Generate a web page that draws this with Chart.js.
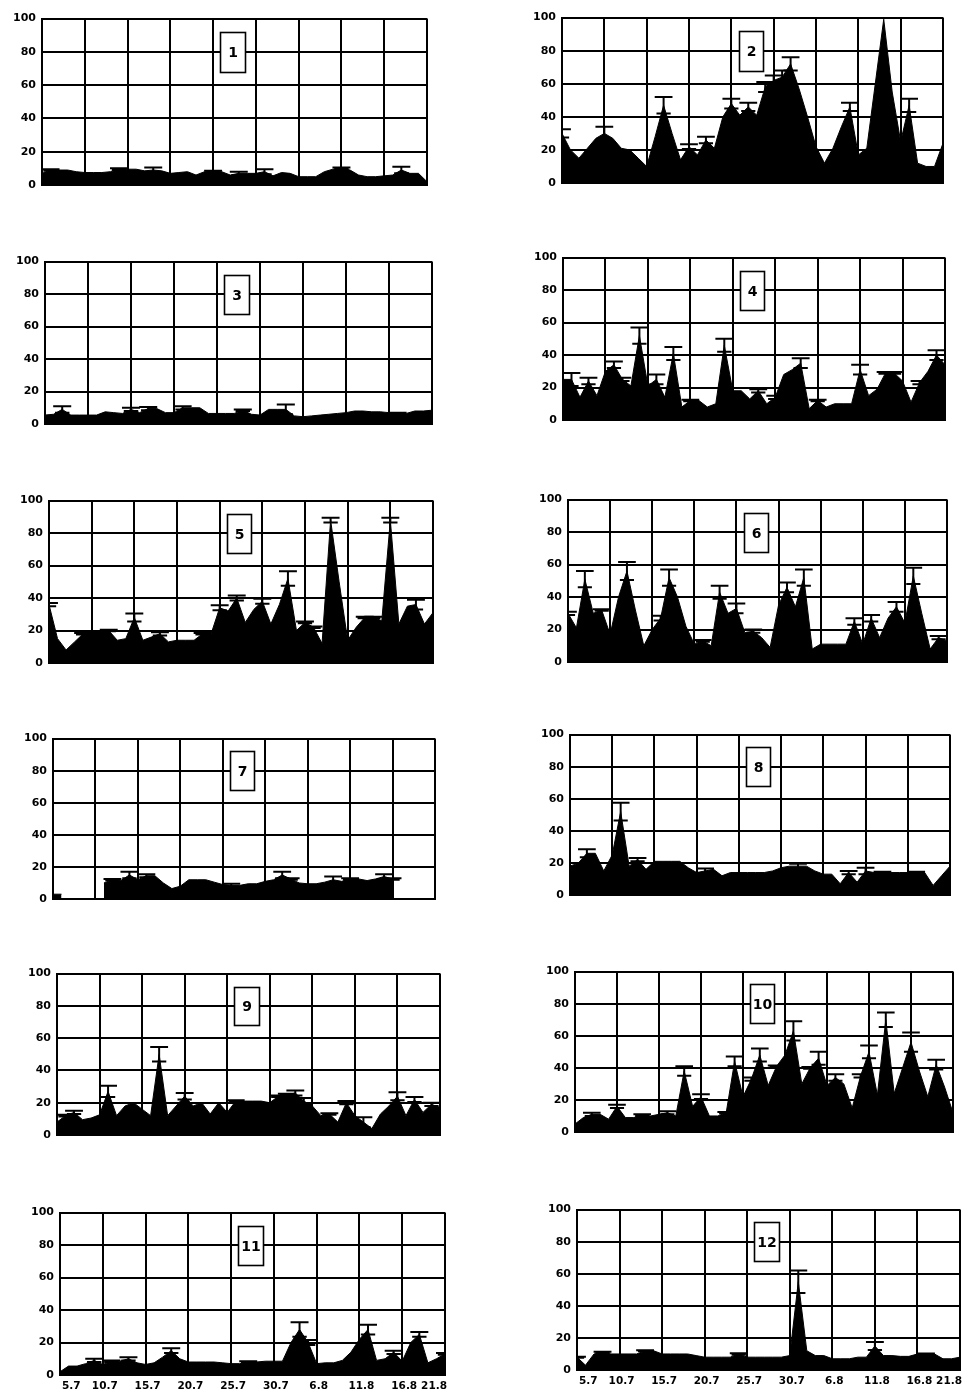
<!DOCTYPE html>
<html>
<head>
<meta charset="utf-8">
<script src="https://cdn.jsdelivr.net/npm/chart.js@4.4.1/dist/chart.umd.min.js"></script>
<style>
  html, body { margin: 0; padding: 0; background: #fff; overflow: hidden; }
  #page { position: relative; width: 969px; height: 1394px; background: #fff; }
  #page canvas { position: absolute; }
</style>
</head>
<body>
<div id="page"></div>
<script>
// Sampling dates (5.7 … 21.8), one tick label every fifth sample
const dateTicks = ['5.7', '10.7', '15.7', '20.7', '25.7', '30.7', '6.8', '11.8', '16.8', '21.8'];
const days = Array.from({ length: 46 }, (_, i) => i);

// Daily means (%) and their standard deviations for each of the 12 sites
const v1 = [7,9,9,9,8,7.5,7.5,7.5,8,9.5,9.5,9.5,8.5,9,8.5,7,7.5,8,6,8,8,8,6,7,7,7,8,5.5,7.5,7,5,5,5,8,9.5,10,9,6,5,5,5.5,6,9,7,7,2];
const e1 = [0,0.5,0,0,0,0,0,0,0,0.5,0,0,0,1.5,0,0,0,0,0,0,0.5,0,0,1,0,0,1.5,0,0,0,0,0,0,0,0,0.5,0,0,0,0,0,0,2,0,0,0];

const v2 = [30,20,15,21,27,30,27,21,20,15,10,28,47,30,14,22,17,26,21,40,48,41,46,41,58,62,64,72,57,40,22,12,21,34,46,17,21,60,99,55,25,47,12,10,10,24];
const e2 = [2.5,0,0,0,0,4,0,0,0,0,0,0,5,0,0,1.5,0,2,0,0,3,0,2.5,0,3,3,4,4,0,0,0,0,0,0,2.5,0,0,0,0,0,0,4,0,0,0,0];

const v3 = [5.5,6,9,5.5,5.5,5.5,5.5,7.5,7,6.5,9,7,9.5,9.5,7,7,10,10,10,6.5,6.5,6.5,6.5,8.5,6,5.5,9,9,9,5,4.5,5,5.5,6,6.5,7,8,8,7.5,7.5,7,6.5,6.5,8,8,8.5];
const e3 = [0,0,2,0,0,0,0,0,0,0,1,0,1,0,0,0,1,0,0,0,0,0,0,0.5,0,0,0,0,3,0,0,0,0,0,0,0,0,0,0,0,0,0.5,0,0,0,0];

const v4 = [25,25,14,24,15,30,34,25,21,52,21,25,14,41,8,12,12,8,10,46,18,18,13,18,10,14,28,31,35,7,12,8,10,10,10,31,15,19,29,29,24,11,23,30,40,34];
const e4 = [0,4,0,2,0,0,2,1,0,5,0,3,0,4,0,0.5,0,0,0,4,0,0,0,1,0,1,0,0,3,0,0.5,0,0,0,0,3,0,0,0.5,0.5,0,0,1,0,3,0];

const v5 = [36,15,8,13,18,20,20,20,14,15,28,14,16,18,13,14,14,14,18,18,34,32,40,25,33,38,24,36,52,20,25,22,12,88,50,14,22,28,28,26,88,24,35,36,24,31];
const e5 = [1,0,0,0,0.5,0,0,0.5,0,0,2.5,0,0,1,0,0,0,0,0.5,0,1.5,0,1.5,0,0,1.5,0,0,4.5,0,0.5,0.5,0,1.5,0,0,0,0.5,0.5,0,1.5,0,0,3,0,0];

const v6 = [30,21,51,30,32,17,40,56,32,10,20,27,52,40,22,11,13,10,43,30,33,18,19,15,9,35,46,34,52,8,11,11,11,11,25,11,27,15,27,34,24,53,30,8,15,13];
const e6 = [1,0,5,0,0.5,0,0,5.5,0,0,0,1.5,5,0,0,0,0.5,0,4,0,3,0,1,0,0,0,3,0,5,0,0,0,0,0,2,0,2,0,0,3,0,5,0,0,1,0];

const v7 = [3,3,null,null,null,null,10,12,11.5,15,12,14.5,14.5,10,6.5,8,12,12,12,10.5,9,8.5,8.5,9.5,9.5,11,12,15,12.5,10,9.5,9.5,10.5,12,11,12.5,12.5,11.5,12.5,14,12.5,null,null,null,null,null];
const e7 = [0,0,0,0,0,0,0,0.5,0,2,0,1,0,0,0,0,0,0,0,0,0,1,0,0,0,0,0,2,0.5,0,0,0,0,2,0,0.5,0,0,0,1.5,0.5,0,0,0,0,0];

const v8 = [18,20,26,26,15,25,52,18,22,16,21,21,21,21,17,14,15,16,12,14,14,14,14,14,15,17,18,18,18,15,13,13,7,14,8,15,14,14,14,14,14,14,14,6,12,18];
const e8 = [0,0,2.5,0,0,0,5.5,0,1,0,0,0,0,0,0,0,1.5,0,0,0,0,0,0,0,0,0,0,1.5,0,0,0,0,0,1,0,2,0,0.5,0,0,0,0.5,0,0,0,0];

const v9 = [8,12,14,9.5,10.5,12.5,27,12,18,20,16,12,50,12,18,24,18,20,13,20,14,21,21,21,21,20,24,25,26,21,18,12,13,8,20,12,8,4,13,18,24,12,22,14,19,17];
const e9 = [0,0.5,1,0,0,0,3.5,0,0,0,0,0,4.5,0,0,2,0,0,0,0,0,0.5,0,0,0,0,0.5,0.5,1.5,2,0,0,0.5,0,1,0,3,0,0,0,2.5,0,1.5,0,1,0];

const v10 = [5,9,11,11,8,16,9,9,10.5,10,11,12,10,38,16,22,10,10,12,44,22,33,48,29,41,48,63,30,40,46,29,34,30,15,35,50,23,70,24,40,56,38,22,42,28,12];
const e10 = [0,0,1,0,0,1,0,0,0.5,0,0,1,0,3,0,1.5,0,0,0.5,3,0,1,4,0,0.5,0,6,0,0.5,4,0,2,0,0,1,4,0,4.5,0,0,6,0,0,3,0,0];

const v11 = [2,5.5,5.5,7,9,6.5,8.5,8.5,10,7.5,6.5,7.5,11,15,10,8,8,8,8,7.5,7,7,8,8,8.5,8.5,8.5,20,28,20,7,7.5,7.5,9,14,22,28,9,10,14,8.5,20,25,7.5,10,13];
const e11 = [0,0,0,0,1,0,0.5,0,1,0,0,0,0,1.5,0,0,0,0,0,0,0,0,0.5,0,0,0,0,0,4.5,1.5,0,0,0,0,0,0,3,0,0,1,0,0,1.5,0,0,0.5];

const v12 = [8,3,10,11,10,10,10,10,12,12,10,10,10,10,9,8,8,8,8,10,8,8,8,8,8,9,55,12,9,9,7,7,7,8,8,15,9,9,8.5,8.5,10,10,10,7,7,8];
const e12 = [0.3,0,0,0.3,0,0,0,0,0.3,0,0,0,0,0,0,0,0,0,0,0.5,0,0,0,0,0,0,7,0,0,0,0,0,0,0,0,2.5,0,0,0,0,0,0.3,0,0,0,0];

// Panel placement on the page: [left, top, right, bottom] of each plot area
const panels = [
  { no: 1,  vals: v1,  err: e1,  rect: [42, 14, 427, 185] },
  { no: 2,  vals: v2,  err: e2,  rect: [562, 13, 943, 183] },
  { no: 3,  vals: v3,  err: e3,  rect: [45, 257, 432, 424] },
  { no: 4,  vals: v4,  err: e4,  rect: [563, 253, 945, 420] },
  { no: 5,  vals: v5,  err: e5,  rect: [49, 496, 433, 663] },
  { no: 6,  vals: v6,  err: e6,  rect: [568, 495, 947, 662] },
  { no: 7,  vals: v7,  err: e7,  rect: [53, 734, 435, 899] },
  { no: 8,  vals: v8,  err: e8,  rect: [570, 730, 950, 895] },
  { no: 9,  vals: v9,  err: e9,  rect: [57, 969, 440, 1135] },
  { no: 10, vals: v10, err: e10, rect: [575, 967, 953, 1132] },
  { no: 11, vals: v11, err: e11, rect: [60, 1208, 445, 1375], xLabels: true },
  { no: 12, vals: v12, err: e12, rect: [577, 1205, 960, 1370], xLabels: true }
];

const AXIS_W = 40, PAD_TOP = 8, PAD_RIGHT = 14, XAXIS_H = 22;

// Mean ± SD whiskers with caps, positioned through the chart scales
const errorBarPlugin = {
  id: 'errorBars',
  afterDatasetsDraw(chart) {
    const ds = chart.data.datasets[0];
    const errs = ds.errors;
    const xs = chart.scales.x, ys = chart.scales.y;
    const ctx = chart.ctx;
    const a = chart.chartArea;
    const hw = (xs.getPixelForValue(1) - xs.getPixelForValue(0)) * 1.05;
    ctx.save();
    ctx.beginPath();
    ctx.rect(a.left - 1, a.top - 1, a.right - a.left + 2, a.bottom - a.top + 2);
    ctx.clip();
    ctx.strokeStyle = '#000';
    ctx.lineWidth = 2;
    ds.data.forEach((pt, i) => {
      const e = errs[i];
      if (pt.y == null || !e) return;
      const x = xs.getPixelForValue(pt.x);
      const yt = ys.getPixelForValue(pt.y + e);
      const yb = ys.getPixelForValue(Math.max(pt.y - e, 0));
      ctx.beginPath();
      ctx.moveTo(x, yt); ctx.lineTo(x, yb);
      ctx.moveTo(x - hw, yt); ctx.lineTo(x + hw, yt);
      ctx.moveTo(x - hw * 0.8, yb); ctx.lineTo(x + hw * 0.8, yb);
      ctx.stroke();
    });
    ctx.restore();
  }
};

// Boxed site number inside each plot
const tagPlugin = {
  id: 'panelTag',
  afterDraw(chart, args, opts) {
    const xs = chart.scales.x, ys = chart.scales.y;
    const ctx = chart.ctx;
    const x0 = Math.round(xs.getPixelForValue(20.85)) + 0.5;
    const x1 = Math.round(xs.getPixelForValue(23.7)) + 0.5;
    const y0 = Math.round(ys.getPixelForValue(92)) + 0.5;
    const y1 = Math.round(ys.getPixelForValue(68)) + 0.5;
    ctx.save();
    ctx.fillStyle = '#fff';
    ctx.fillRect(x0, y0, x1 - x0, y1 - y0);
    ctx.strokeStyle = '#000';
    ctx.lineWidth = 1.6;
    ctx.strokeRect(x0, y0, x1 - x0, y1 - y0);
    ctx.fillStyle = '#000';
    ctx.font = 'bold 14px "DejaVu Sans"';
    ctx.textAlign = 'center';
    ctx.textBaseline = 'middle';
    ctx.fillText(opts.text, (x0 + x1) / 2, (y0 + y1) / 2 + 1);
    ctx.restore();
  }
};

const page = document.getElementById('page');

panels.forEach(p => {
  const [L, T, R, B] = p.rect;
  const w = R - L + AXIS_W + PAD_RIGHT;
  const h = B - T + PAD_TOP + XAXIS_H;
  const canvas = document.createElement('canvas');
  canvas.width = w; canvas.height = h;
  canvas.style.width = w + 'px'; canvas.style.height = h + 'px';
  canvas.style.left = (L - AXIS_W) + 'px';
  canvas.style.top = (T - PAD_TOP) + 'px';
  page.appendChild(canvas);

  new Chart(canvas, {
    type: 'line',
    data: {
      datasets: [{
        data: p.vals.map((y, i) => ({ x: days[i], y })),
        errors: p.err,
        borderColor: '#000',
        backgroundColor: '#000',
        borderWidth: 1,
        fill: 'origin',
        tension: 0,
        pointRadius: 0,
        spanGaps: false
      }]
    },
    options: {
      responsive: false,
      animation: false,
      events: [],
      layout: { padding: { top: PAD_TOP, right: PAD_RIGHT, left: 0, bottom: 0 } },
      plugins: {
        legend: { display: false },
        tooltip: { enabled: false },
        panelTag: { text: String(p.no) }
      },
      scales: {
        x: {
          type: 'linear',
          min: 0, max: 45,
          afterFit(s) { s.height = XAXIS_H; },
          grid: { color: '#000', lineWidth: 2, drawTicks: false },
          border: { color: '#000', width: 2 },
          ticks: {
            stepSize: 5,
            autoSkip: false,
            maxRotation: 0,
            padding: 5,
            align: 'inner',
            labelOffset: 2,
            color: p.xLabels ? '#000' : 'rgba(0,0,0,0)',
            font: { family: 'DejaVu Sans', size: 10.5, weight: 'bold' },
            callback: v => dateTicks[Math.round(v / 5)]
          }
        },
        y: {
          min: 0, max: 100,
          afterFit(s) { s.width = AXIS_W; },
          grid: { color: '#000', lineWidth: 2, drawTicks: false },
          border: { color: '#000', width: 2 },
          ticks: {
            stepSize: 20,
            padding: 6,
            color: '#000',
            font: { family: 'DejaVu Sans', size: 11, weight: 'bold' }
          }
        }
      }
    },
    plugins: [errorBarPlugin, tagPlugin]
  });
});
</script>
</body>
</html>
